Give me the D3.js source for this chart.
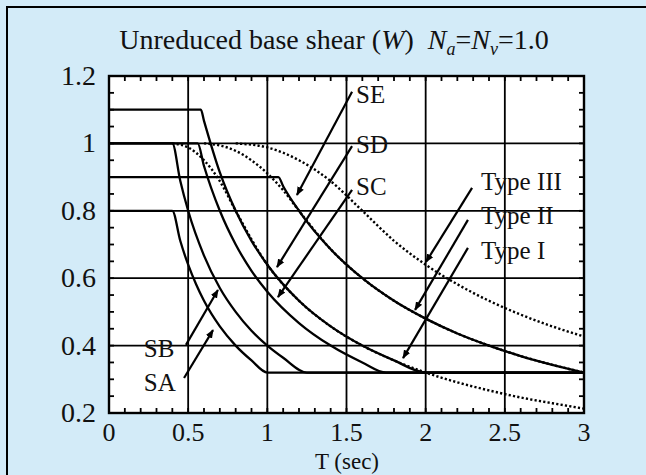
<!DOCTYPE html>
<html>

<head>
    <title>Unreduced base shear</title>
    <script src="https://d3js.org/d3.v7.min.js"></script>
    <style>
        body { margin: 0; }
        text { font-family: 'Liberation Serif', 'Times New Roman', serif; fill: #111; }
    </style>
</head>

<body>
    <script>
        // UBC soil profiles (solid lines)
        const saT = [0, 0.4, 0.45, 0.5, 0.55, 0.6, 0.7, 0.8, 0.9, 1.0, 3.0]
        const saV = [0.8, 0.8, 0.711, 0.64, 0.582, 0.533, 0.457, 0.4, 0.356, 0.32, 0.32]
        const sbT = [0, 0.4, 0.45, 0.5, 0.6, 0.7, 0.8, 0.9, 1.0, 1.1, 1.25, 3.0]
        const sbV = [1.0, 1.0, 0.889, 0.8, 0.667, 0.571, 0.5, 0.444, 0.4, 0.364, 0.32, 0.32]
        const scT = [0, 0.56, 0.6, 0.7, 0.8, 0.9, 1.0, 1.2, 1.4, 1.6, 1.75, 3.0]
        const scV = [1.0, 1.0, 0.933, 0.8, 0.7, 0.622, 0.56, 0.467, 0.4, 0.35, 0.32, 0.32]
        const sdT = [0, 0.58, 0.6, 0.7, 0.8, 0.9, 1.0, 1.2, 1.4, 1.6, 1.8, 2.0, 3.0]
        const sdV = [1.1, 1.1, 1.067, 0.914, 0.8, 0.711, 0.64, 0.533, 0.457, 0.4, 0.356, 0.32, 0.32]
        const seT = [0, 1.07, 1.1, 1.2, 1.4, 1.6, 1.8, 2.0, 2.2, 2.4, 2.6, 2.8, 3.0]
        const seV = [0.9, 0.9, 0.873, 0.8, 0.686, 0.6, 0.533, 0.48, 0.436, 0.4, 0.369, 0.343, 0.32]

        // ground types (dotted lines)
        const type1T = [0.4, 0.5, 0.6, 0.7, 0.8, 1.0, 1.2, 1.4, 1.6, 1.8, 2.0, 2.2, 2.4, 2.6, 2.8, 3.0]
        const type1V = [1.0, 0.988, 0.95, 0.888, 0.8, 0.64, 0.533, 0.457, 0.4, 0.356, 0.32, 0.291, 0.267, 0.246, 0.229, 0.213]
        const type2T = [0.6, 0.7, 0.8, 0.9, 1.0, 1.1, 1.2, 1.4, 1.6, 1.8, 2.0, 2.2, 2.4, 2.6, 2.8, 3.0]
        const type2V = [1.0, 0.994, 0.978, 0.95, 0.911, 0.861, 0.8, 0.686, 0.6, 0.533, 0.48, 0.436, 0.4, 0.369, 0.343, 0.32]
        const type3T = [0.8, 1.0, 1.2, 1.4, 1.6, 1.8, 2.0, 2.2, 2.4, 2.6, 2.8, 3.0]
        const type3V = [1.0, 0.988, 0.95, 0.888, 0.8, 0.711, 0.64, 0.582, 0.533, 0.492, 0.457, 0.427]

        // axes
        const xTicks = [0, 0.5, 1, 1.5, 2, 2.5, 3]
        const xTickLabels = ['0', '0.5', '1', '1.5', '2', '2.5', '3']
        const yTicks = [0.2, 0.4, 0.6, 0.8, 1, 1.2]
        const yTickLabels = ['0.2', '0.4', '0.6', '0.8', '1', '1.2']

        // labels: [T, value] and arrows: [T0, v0, T1, v1]
        const labelNames = ['SE', 'SD', 'SC', 'Type III', 'Type II', 'Type I', 'SB', 'SA']
        const labelPos = [[1.56, 1.12], [1.56, 0.971], [1.56, 0.847], [2.35, 0.862], [2.35, 0.761], [2.35, 0.657], [0.22, 0.366], [0.22, 0.265]]
        const arrowPos = [
            [1.535, 1.153, 1.187, 0.847],
            [1.535, 0.992, 1.061, 0.633],
            [1.535, 0.862, 1.067, 0.544],
            [2.293, 0.868, 2.002, 0.648],
            [2.267, 0.773, 1.933, 0.506],
            [2.267, 0.690, 1.857, 0.363],
            [0.486, 0.402, 0.688, 0.565],
            [0.474, 0.304, 0.657, 0.446]
        ]

        const msm = { width: 646, height: 475, left: 109, right: 584, top: 76, bottom: 413 }

        let svg = d3.select('body')
            .append('svg')
            .attr('width', msm.width)
            .attr('height', msm.height)

        // background + border (only top/left visible)
        svg.append('rect').attr('width', msm.width).attr('height', msm.height).attr('fill', '#d3ebf8')
        svg.append('rect')
            .attr('x', 7).attr('y', 7)
            .attr('width', msm.width + 20).attr('height', msm.height + 20)
            .attr('fill', 'none').attr('stroke', '#000').attr('stroke-width', 2)

        let x = d3.scaleLinear().domain([0, 3]).range([msm.left, msm.right])
        let y = d3.scaleLinear().domain([0.2, 1.2]).range([msm.bottom, msm.top])

        svg.append('rect')
            .attr('x', x(0)).attr('y', y(1.2))
            .attr('width', x(3) - x(0)).attr('height', y(0.2) - y(1.2))
            .attr('fill', '#fff')

        // grid
        let grid = svg.append('g').attr('stroke', '#000').attr('stroke-width', 1.8)
        grid.selectAll('.gx')
            .data(xTicks.slice(1, -1))
            .enter()
            .append('line')
            .attr('x1', d => x(d)).attr('x2', d => x(d))
            .attr('y1', y(1.2)).attr('y2', y(0.2))
        grid.selectAll('.gy')
            .data(yTicks.slice(1, -1))
            .enter()
            .append('line')
            .attr('x1', x(0)).attr('x2', x(3))
            .attr('y1', d => y(d)).attr('y2', d => y(d))

        // minor inward ticks
        let minorX = d3.range(1, 30).map(i => i / 10)
        let minorY = d3.range(1, 20).map(i => 0.2 + i * 0.05)
        let ticks = svg.append('g').attr('stroke', '#000').attr('stroke-width', 1.8)
        ticks.selectAll('.tb')
            .data(minorX)
            .enter()
            .append('line')
            .attr('x1', d => x(d)).attr('x2', d => x(d))
            .attr('y1', y(0.2)).attr('y2', y(0.2) - 5)
        ticks.selectAll('.tt')
            .data(minorX)
            .enter()
            .append('line')
            .attr('x1', d => x(d)).attr('x2', d => x(d))
            .attr('y1', y(1.2)).attr('y2', y(1.2) + 5)
        ticks.selectAll('.tl')
            .data(minorY)
            .enter()
            .append('line')
            .attr('x1', x(0)).attr('x2', x(0) + 5)
            .attr('y1', d => y(d)).attr('y2', d => y(d))
        ticks.selectAll('.tr')
            .data(minorY)
            .enter()
            .append('line')
            .attr('x1', x(3)).attr('x2', x(3) - 5)
            .attr('y1', d => y(d)).attr('y2', d => y(d))

        let line = d3.line()
            .x(d => x(d[0]))
            .y(d => y(d[1]))
            .curve(d3.curveMonotoneX)

        let zip = (ts, vs) => ts.map((t, i) => [t, vs[i]])

        // dotted ground-type curves first
        svg.append('g')
            .selectAll('path')
            .data([zip(type1T, type1V), zip(type2T, type2V), zip(type3T, type3V)])
            .enter()
            .append('path')
            .attr('d', line)
            .attr('fill', 'none')
            .attr('stroke', '#000')
            .attr('stroke-width', 2.4)
            .attr('stroke-dasharray', '2.2 2.2')

        svg.append('g')
            .selectAll('path')
            .data([zip(saT, saV), zip(sbT, sbV), zip(scT, scV), zip(sdT, sdV), zip(seT, seV)])
            .enter()
            .append('path')
            .attr('d', line)
            .attr('fill', 'none')
            .attr('stroke', '#000')
            .attr('stroke-width', 2.3)
            .attr('stroke-linejoin', 'round')

        // frame
        svg.append('rect')
            .attr('x', x(0)).attr('y', y(1.2))
            .attr('width', x(3) - x(0)).attr('height', y(0.2) - y(1.2))
            .attr('fill', 'none').attr('stroke', '#000').attr('stroke-width', 2.4)

        // tick labels
        svg.append('g')
            .selectAll('text')
            .data(xTicks)
            .enter()
            .append('text')
            .attr('x', d => x(d))
            .attr('y', 441)
            .attr('text-anchor', 'middle')
            .attr('font-size', 26)
            .text((d, i) => xTickLabels[i])
        svg.append('g')
            .selectAll('text')
            .data(yTicks)
            .enter()
            .append('text')
            .attr('x', 96)
            .attr('y', d => y(d) + 9)
            .attr('text-anchor', 'end')
            .attr('font-size', 28)
            .text((d, i) => yTickLabels[i])

        svg.append('text')
            .attr('x', 347).attr('y', 469)
            .attr('text-anchor', 'middle')
            .attr('font-size', 23)
            .text('T (sec)')

        // title
        let title = svg.append('text')
            .attr('x', 334).attr('y', 49)
            .attr('text-anchor', 'middle')
            .attr('font-size', 28)
        title.append('tspan').text('Unreduced base shear (')
        title.append('tspan').attr('font-style', 'italic').text('W')
        title.append('tspan').text(')\u00a0\u00a0')
        title.append('tspan').attr('font-style', 'italic').text('N')
        title.append('tspan').attr('font-style', 'italic').attr('font-size', 18).attr('dy', 6).text('a')
        title.append('tspan').attr('dy', -6).text('=')
        title.append('tspan').attr('font-style', 'italic').text('N')
        title.append('tspan').attr('font-style', 'italic').attr('font-size', 18).attr('dy', 6).text('v')
        title.append('tspan').attr('dy', -6).text('=1.0')

        // annotations
        svg.append('defs')
            .append('marker')
            .attr('id', 'head')
            .attr('viewBox', '0 0 10 10')
            .attr('refX', 9).attr('refY', 5)
            .attr('markerWidth', 4).attr('markerHeight', 4)
            .attr('orient', 'auto')
            .append('path')
            .attr('d', 'M0,1L10,5L0,9Z')
            .attr('fill', '#000')

        svg.append('g')
            .selectAll('line')
            .data(arrowPos)
            .enter()
            .append('line')
            .attr('x1', d => x(d[0])).attr('y1', d => y(d[1]))
            .attr('x2', d => x(d[2])).attr('y2', d => y(d[3]))
            .attr('stroke', '#000')
            .attr('stroke-width', 2.2)
            .attr('marker-end', 'url(#head)')

        svg.append('g')
            .selectAll('text')
            .data(labelPos)
            .enter()
            .append('text')
            .attr('x', d => x(d[0]))
            .attr('y', d => y(d[1]))
            .attr('font-size', 25)
            .text((d, i) => labelNames[i])
    </script>
</body>
</html>
